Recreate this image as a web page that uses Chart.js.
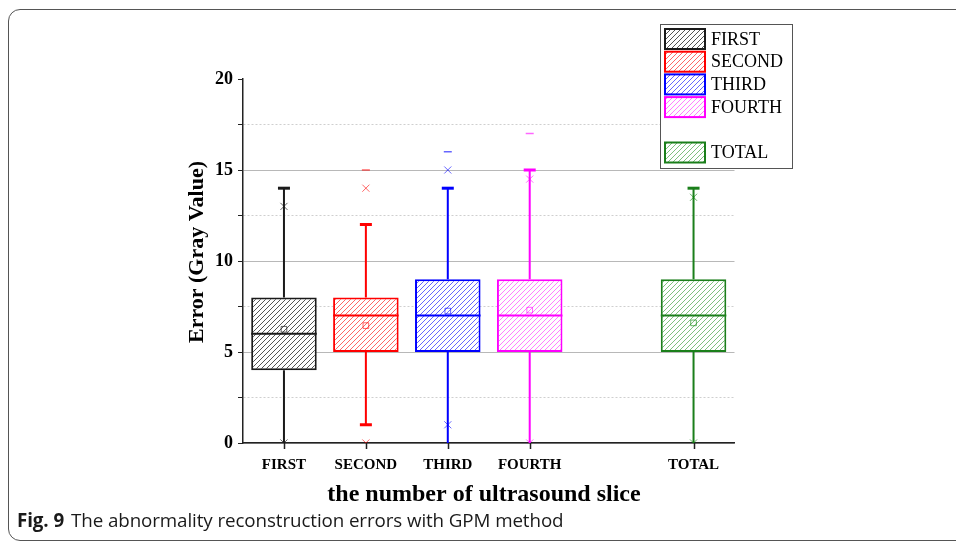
<!DOCTYPE html>
<html>
<head>
<meta charset="utf-8">
<script src="https://cdn.jsdelivr.net/npm/chart.js@4.4.1/dist/chart.umd.min.js"></script>
<style>
    body { margin: 0; background: #fff; }
    #wrap { position: relative; width: 956px; height: 542px; overflow: hidden; }
    #frame { position: absolute; left: 8px; top: 9px; width: 1000px; height: 530px; border: 1px solid #555; border-radius: 12px; }
    #box { position: absolute; left: 0; top: 0; width: 956px; height: 542px; }
    #caption { position: absolute; left: 17px; top: 507px; font-family: "Open Sans", sans-serif; font-size: 18.8px; color: #1a1a1a; white-space: nowrap; letter-spacing: -0.1px; }
    #caption b { font-weight: 700; margin-right: 7px; }
</style>
</head>
<body>
<div id="wrap">
    <div id="frame"></div>
    <div id="box"><canvas id="myChart" width="956" height="542"></canvas></div>
    <div id="caption"><b>Fig. 9</b>The abnormality reconstruction errors with GPM method</div>
</div>
<script>
// data (empty slot = gap before TOTAL)
var categories = ['FIRST', 'SECOND', 'THIRD', 'FOURTH', '', 'TOTAL'];
var q1 = [4, 5, 5, 5, null, 5];
var q3 = [8, 8, 9, 9, null, 9];
var medians = [6, 7, 7, 7, null, 7];
var means = [6.25, 6.45, 7.25, 7.3, null, 6.6];
var whiskerLow = [0, 1, 0, 0, null, 0];
var whiskerHigh = [14, 12, 14, 15, null, 14];
var pctHigh = [13, 14, 15, 14.5, null, 13.5];
var pctLow = [0, 0, 1, 0, null, 0];
var maxVals = [null, 15, 16, 17, null, null];

var colors = ['#1a1a1a', '#ff0000', '#0000ff', '#ff00ff', null, '#1b7f1b'];
var hatchColors = ['#555', 'rgba(255,0,0,0.6)', 'rgba(0,0,255,0.6)', 'rgba(255,0,255,0.5)', null, 'rgba(0,128,0,0.5)'];
var lightColors = ['rgba(30,30,30,0.7)', 'rgba(255,0,0,0.6)', 'rgba(0,0,255,0.6)', 'rgba(255,0,255,0.6)', null, 'rgba(0,128,0,0.6)'];

var canvas = document.getElementById('myChart');
var mainCtx = canvas.getContext('2d');

function hatch(color) {
    var c = document.createElement('canvas');
    c.width = 5; c.height = 5;
    var g = c.getContext('2d');
    g.fillStyle = '#fff';
    g.fillRect(0, 0, 5, 5);
    g.strokeStyle = color;
    g.lineWidth = 1;
    g.beginPath();
    g.moveTo(0, 5); g.lineTo(5, 0);
    g.moveTo(-1, 1); g.lineTo(1, -1);
    g.moveTo(4, 6); g.lineTo(6, 4);
    g.stroke();
    return mainCtx.createPattern(c, 'repeat');
}
var patterns = hatchColors.map(function (c) { return c ? hatch(c) : null; });

var serif = '"Liberation Serif", "Times New Roman", serif';

var boxParts = {
    id: 'boxParts',
    beforeDatasetsDraw: function (chart) {
        var ctx = chart.ctx, x = chart.scales.x, y = chart.scales.y;
        ctx.save();
        for (var i = 0; i < categories.length; i++) {
            if (q1[i] == null) continue;
            var px = x.getPixelForValue(i);
            ctx.strokeStyle = colors[i];
            ctx.lineWidth = 2;
            ctx.beginPath();
            ctx.moveTo(px, y.getPixelForValue(q3[i]));
            ctx.lineTo(px, y.getPixelForValue(whiskerHigh[i]));
            ctx.moveTo(px, y.getPixelForValue(q1[i]));
            ctx.lineTo(px, y.getPixelForValue(whiskerLow[i]));
            ctx.stroke();
            ctx.lineWidth = 3;
            ctx.beginPath();
            ctx.moveTo(px - 6, y.getPixelForValue(whiskerHigh[i]));
            ctx.lineTo(px + 6, y.getPixelForValue(whiskerHigh[i]));
            if (whiskerLow[i] > 0) {
                ctx.moveTo(px - 6, y.getPixelForValue(whiskerLow[i]));
                ctx.lineTo(px + 6, y.getPixelForValue(whiskerLow[i]));
            }
            ctx.stroke();
        }
        ctx.restore();
    },
    afterDatasetDraw: function (chart, args) {
        if (args.index !== 0) return;
        var ctx = chart.ctx, x = chart.scales.x, y = chart.scales.y;
        var bars = chart.getDatasetMeta(0).data;
        ctx.save();
        for (var i = 0; i < categories.length; i++) {
            if (medians[i] == null) continue;
            var px = x.getPixelForValue(i), hw = bars[i].width / 2;
            var py = y.getPixelForValue(medians[i]);
            ctx.strokeStyle = colors[i];
            ctx.lineWidth = 2;
            ctx.beginPath();
            ctx.moveTo(px - hw, py);
            ctx.lineTo(px + hw, py);
            ctx.stroke();
        }
        ctx.restore();
    },
    afterDraw: function (chart) {
        var ctx = chart.ctx, xs = chart.scales.x;
        ctx.save();
        // x tick marks at the category centres
        ctx.strokeStyle = '#222';
        ctx.lineWidth = 1.5;
        ctx.beginPath();
        for (var k = 0; k < categories.length; k++) {
            if (!categories[k]) continue;
            var tx = Math.round(xs.getPixelForValue(k)) + 0.5;
            ctx.moveTo(tx, chart.chartArea.bottom);
            ctx.lineTo(tx, chart.chartArea.bottom + 6);
        }
        ctx.stroke();
        // axis titles
        ctx.fillStyle = '#000';
        ctx.font = 'bold 22px ' + serif;
        ctx.textAlign = 'center';
        ctx.textBaseline = 'middle';
        ctx.translate(197, 252);
        ctx.rotate(-Math.PI / 2);
        ctx.fillText('Error (Gray Value)', 0, 0);
        ctx.setTransform(1, 0, 0, 1, 0, 0);
        ctx.font = 'bold 24px ' + serif;
        ctx.fillText('the number of ultrasound slice', 484, 495);
        // legend
        ctx.fillStyle = '#fff';
        ctx.fillRect(660, 24, 132, 144);
        ctx.strokeStyle = '#555';
        ctx.lineWidth = 1;
        ctx.strokeRect(660.5, 24.5, 132, 144);
        ctx.font = '18px ' + serif;
        ctx.textAlign = 'left';
        for (var i = 0; i < categories.length; i++) {
            if (!categories[i]) continue;
            var ty = 29 + i * 22.7;
            ctx.fillStyle = patterns[i];
            ctx.fillRect(665, ty, 40, 20);
            ctx.strokeStyle = colors[i];
            ctx.lineWidth = 2;
            ctx.strokeRect(665, ty, 40, 20);
            ctx.fillStyle = '#000';
            ctx.fillText(categories[i], 711, ty + 11);
        }
        ctx.restore();
    }
};

new Chart(canvas, {
    type: 'bar',
    data: {
        labels: categories,
        datasets: [
            {
                label: 'box',
                data: q1.map(function (v, i) { return v == null ? null : [v, q3[i]]; }),
                backgroundColor: patterns,
                borderColor: colors,
                borderWidth: 2,
                borderSkipped: false,
                barPercentage: 0.8,
                categoryPercentage: 1.0,
                grouped: false,
                order: 10
            },
            {
                type: 'line', label: 'mean', data: means, showLine: false,
                pointStyle: 'rect', pointRadius: 4, pointBorderWidth: 1,
                pointBackgroundColor: 'rgba(0,0,0,0)', pointBorderColor: lightColors, order: 1
            },
            {
                type: 'line', label: 'p99', data: pctHigh, showLine: false,
                pointStyle: 'crossRot', pointRadius: 5, pointBorderWidth: 1,
                pointBorderColor: lightColors, order: 1
            },
            {
                type: 'line', label: 'p1', data: pctLow, showLine: false,
                pointStyle: 'crossRot', pointRadius: 5, pointBorderWidth: 1,
                pointBorderColor: lightColors, order: 1
            },
            {
                type: 'line', label: 'max', data: maxVals, showLine: false,
                pointStyle: 'line', pointRadius: 4, pointBorderWidth: 1.5,
                pointBorderColor: lightColors, order: 1
            }
        ]
    },
    options: {
        responsive: false,
        animation: false,
        layout: {padding: {left: 0, top: 79, right: 221.5, bottom: 0}},
        plugins: {legend: {display: false}, tooltip: {enabled: false}},
        scales: {
            x: {
                afterFit: function (s) { s.height = 99; },
                grid: {drawOnChartArea: false, drawTicks: true, tickLength: 6, tickColor: 'rgba(0,0,0,0)'},
                border: {color: '#222', width: 1.5},
                ticks: {color: '#000', font: {family: serif, size: 15, weight: 'bold'}, padding: 7}
            },
            y: {
                min: 0,
                max: 20,
                afterFit: function (s) { s.width = 243; },
                grid: {
                    color: function (c) {
                        if (!c.tick || c.tick.value === 20) return 'rgba(0,0,0,0)';
                        return c.tick.value % 5 === 0 ? '#b8b8b8' : '#cfcfcf';
                    },
                    tickLength: 5,
                    tickColor: '#222'
                },
                border: {
                    color: '#222', width: 1.5,
                    dash: function (c) { return c.tick && c.tick.value % 5 !== 0 ? [2, 2] : []; }
                },
                ticks: {
                    stepSize: 2.5,
                    color: '#000',
                    padding: 5,
                    font: {family: serif, size: 18, weight: 'bold'},
                    callback: function (v) { return v % 5 === 0 ? v : ''; }
                }
            }
        }
    },
    plugins: [boxParts]
});
</script>
</body>
</html>
